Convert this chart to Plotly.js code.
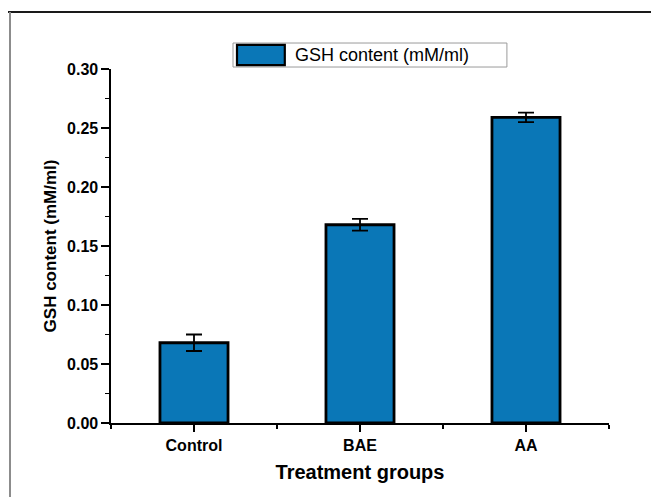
<!DOCTYPE html>
<html>
<head>
<meta charset="utf-8">
<script src="https://cdn.plot.ly/plotly-3.0.1.min.js"></script>
<style>
  html, body { margin: 0; padding: 0; background: #ffffff; overflow: hidden; }
  #chart { width: 651px; height: 497px; }
</style>
</head>
<body>
<div id="chart"></div>
<script>
// Treatment groups and measured GSH content with standard deviations
const groups = ["Control", "BAE", "AA"];
const gshContent = [0.068, 0.168, 0.259];
const gshError = [0.007, 0.005, 0.004];
const seriesName = "GSH content (mM/ml)";
const yTickValues = [0, 0.05, 0.10, 0.15, 0.20, 0.25, 0.30];

const positions = groups.map((_, i) => i);
const barBlue = "#0a77b7";
const fontFamily = "'Liberation Sans', Arial, sans-serif";

const trace = {
  type: "bar",
  name: seriesName,
  x: positions,
  y: gshContent,
  width: 0.41,
  marker: { color: barBlue, line: { color: "#000000", width: 2.8 } },
  error_y: { type: "data", array: gshError, visible: true, color: "#000000", thickness: 1.8, width: 8 },
  showlegend: false,
  hoverinfo: "skip"
};

const layout = {
  width: 651,
  height: 497,
  margin: { l: 111, r: 42, t: 69, b: 74 },
  paper_bgcolor: "#ffffff",
  plot_bgcolor: "#ffffff",
  font: { family: fontFamily, color: "#000000" },
  xaxis: {
    type: "linear",
    range: [-0.5, 2.5],
    tickmode: "array",
    tickvals: positions,
    ticktext: groups,
    ticks: "outside",
    ticklen: 7,
    tickwidth: 1.4,
    tickcolor: "#000000",
    minor: { tickmode: "linear", tick0: -0.5, dtick: 1, ticks: "outside", ticklen: 4, tickwidth: 1.2, tickcolor: "#000000", showgrid: false },
    showline: true,
    linecolor: "#000000",
    linewidth: 1.6,
    showgrid: false,
    zeroline: false,
    fixedrange: true,
    tickfont: { family: fontFamily, size: 16, color: "#000000", weight: "bold" },
    title: { text: "<b>Treatment groups</b>", font: { family: fontFamily, size: 20, color: "#000000" }, standoff: 12 }
  },
  yaxis: {
    range: [0, 0.30],
    tickmode: "array",
    tickvals: yTickValues,
    tickformat: ".2f",
    ticks: "outside",
    ticklen: 8,
    tickwidth: 1.4,
    tickcolor: "#000000",
    minor: { tickmode: "linear", tick0: 0, dtick: 0.025, ticks: "outside", ticklen: 4, tickwidth: 1.2, tickcolor: "#000000", showgrid: false },
    showline: true,
    linecolor: "#000000",
    linewidth: 1.6,
    showgrid: false,
    zeroline: false,
    fixedrange: true,
    tickfont: { family: fontFamily, size: 16, color: "#000000", weight: "bold" },
    title: { text: "<b>GSH content (mM/ml)</b>", font: { family: fontFamily, size: 17, color: "#000000" }, standoff: 6 }
  },
  shapes: [
    // Figure frame: top and left edges
    { type: "line", xref: "paper", yref: "paper", x0: -0.2068, x1: 1.2, y0: 1.161, y1: 1.161,
      line: { color: "#1a1a1a", width: 2 }, layer: "above" },
    { type: "line", xref: "paper", yref: "paper", x0: -0.2028, x1: -0.2028, y0: 1.161, y1: -0.25,
      line: { color: "#8c8c8c", width: 2 }, layer: "above" },
    // Legend box drawn as a framed swatch with its label
    { type: "rect", xref: "paper", yref: "paper", x0: 0.245, x1: 0.795, y0: 1.0056, y1: 1.0734,
      line: { color: "#9a9a9a", width: 1 }, fillcolor: "#ffffff", layer: "above" },
    { type: "rect", xref: "paper", yref: "paper", x0: 0.253, x1: 0.349, y0: 1.011, y1: 1.068,
      line: { color: "#000000", width: 2.2 }, fillcolor: barBlue, layer: "above" }
  ],
  annotations: [
    { xref: "paper", yref: "paper", x: 0.3655, y: 1.0395, xanchor: "left", yanchor: "middle",
      text: seriesName, showarrow: false, font: { family: fontFamily, size: 18, color: "#000000" } }
  ]
};

Plotly.newPlot("chart", [trace], layout, { staticPlot: true, displayModeBar: false });
</script>
</body>
</html>
